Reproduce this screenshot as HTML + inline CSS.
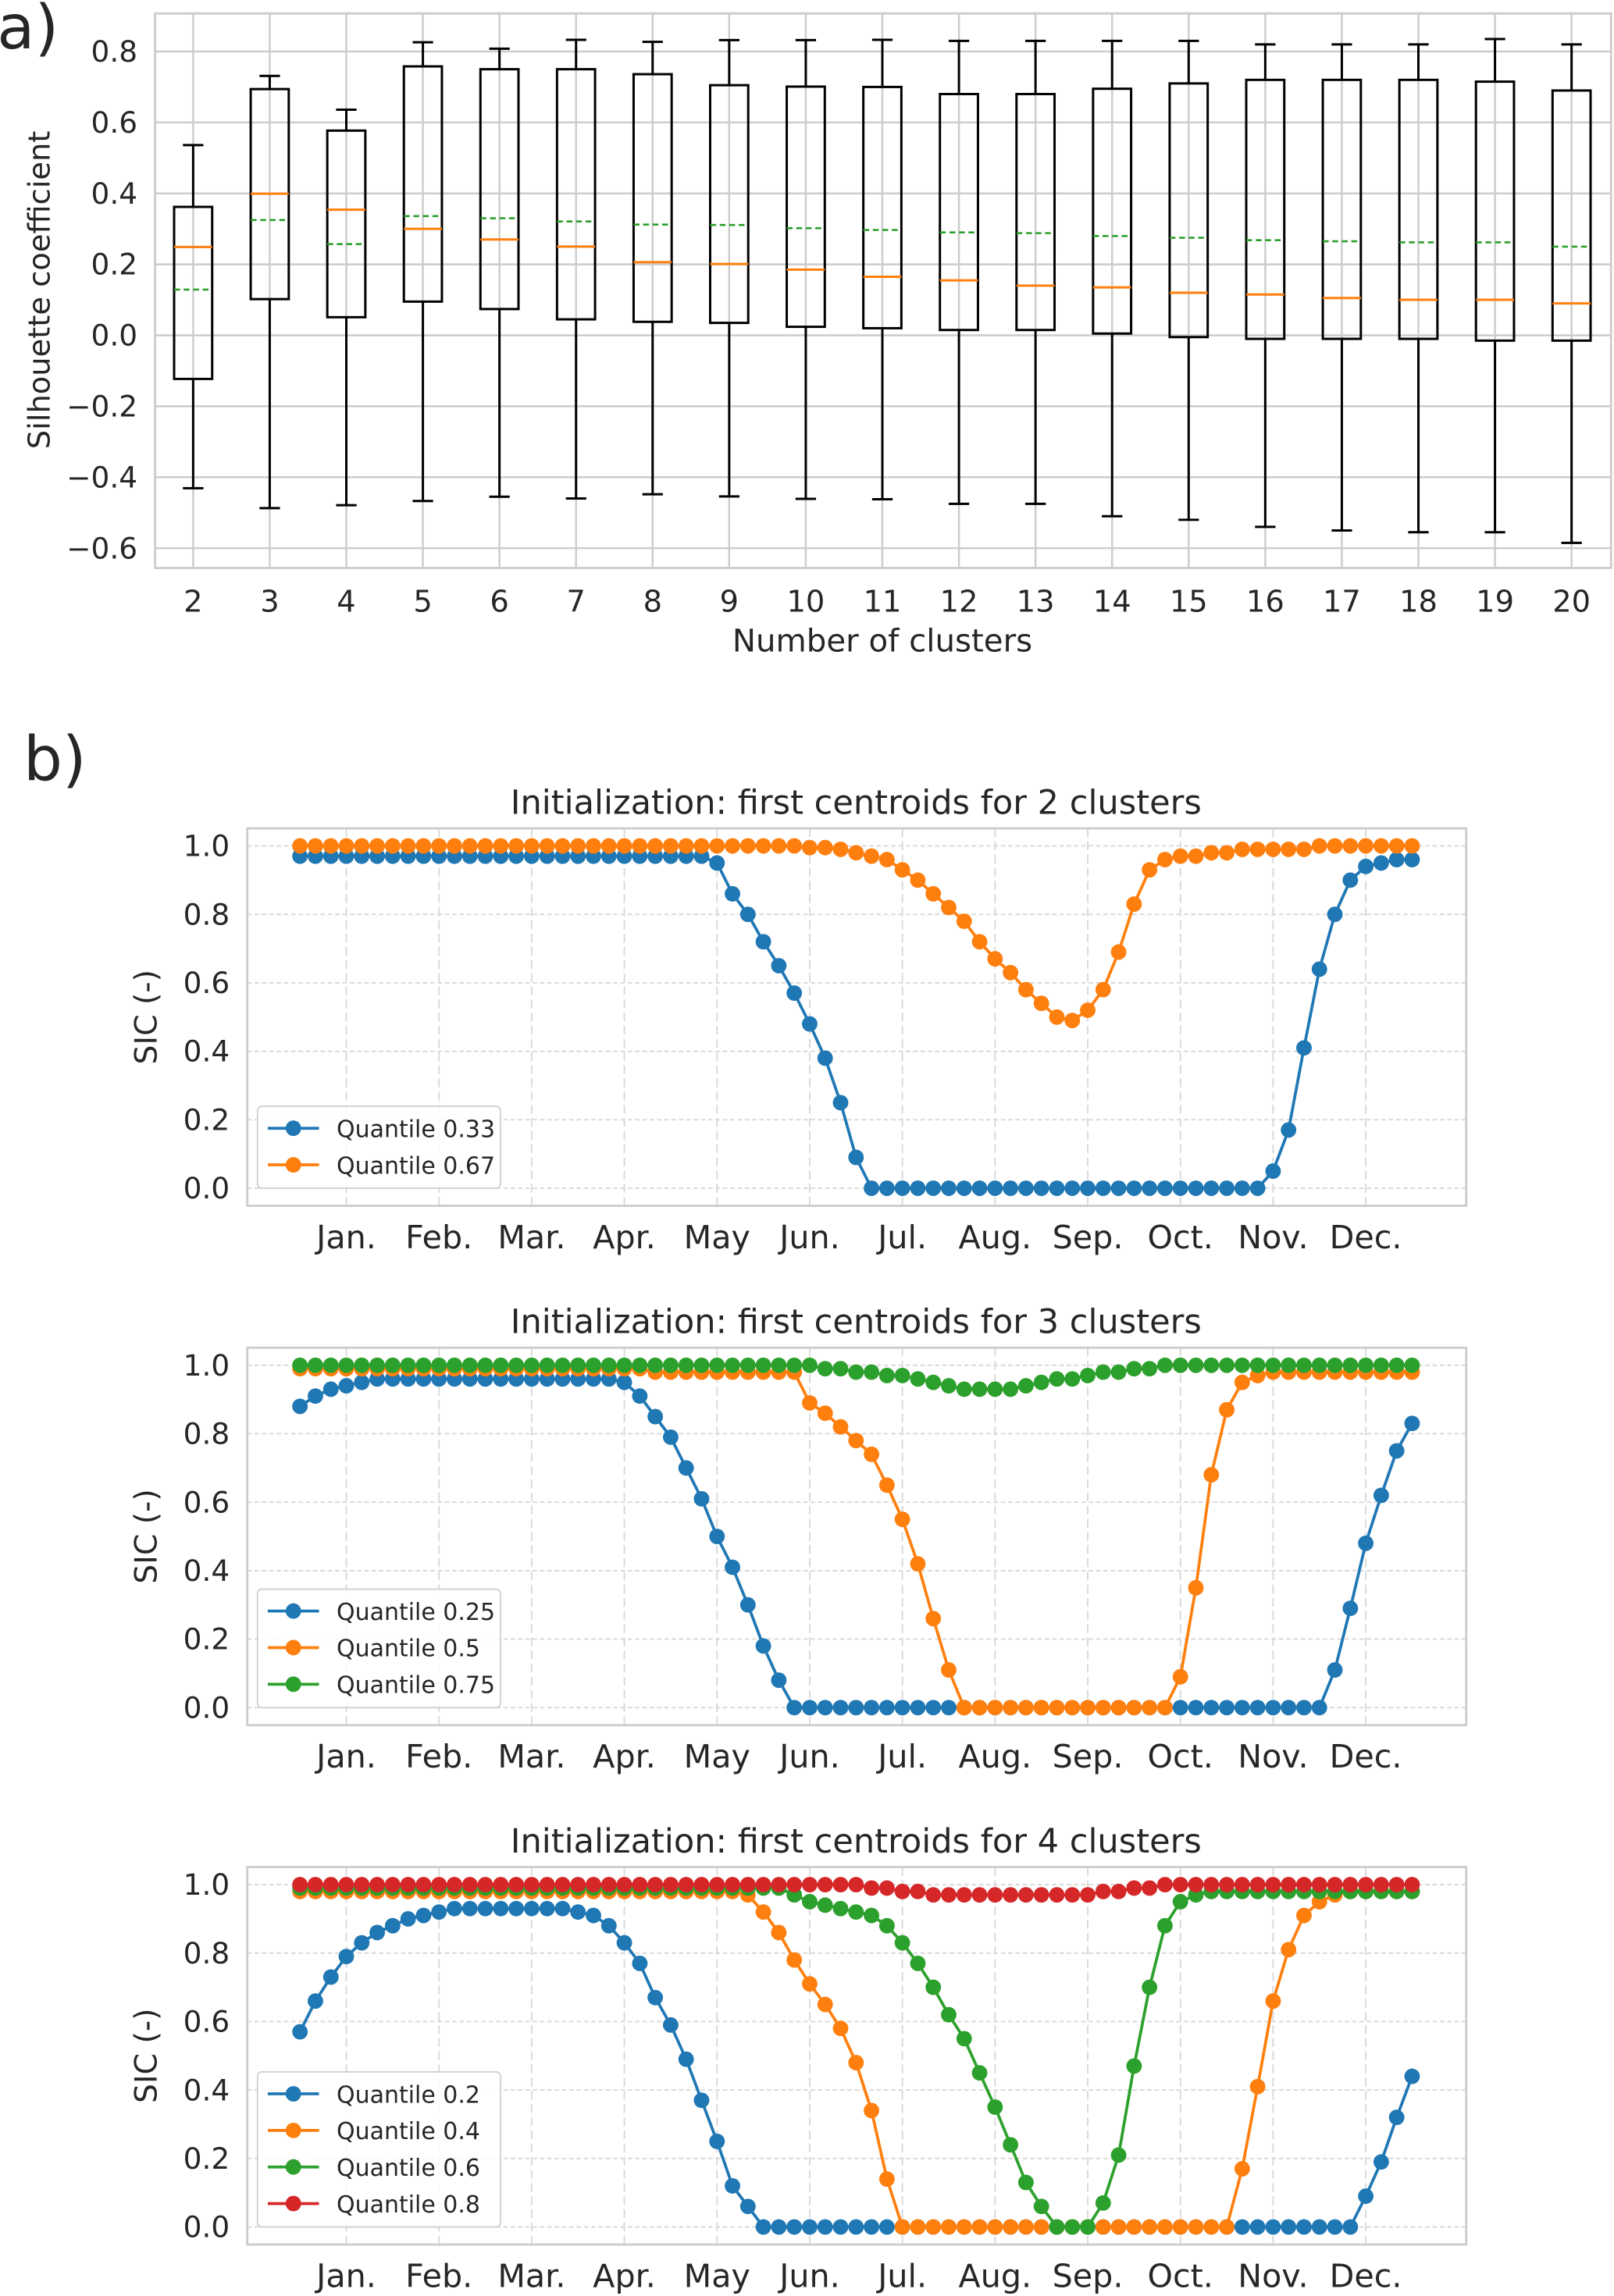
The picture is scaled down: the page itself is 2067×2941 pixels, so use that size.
<!DOCTYPE html>
<html><head><meta charset="utf-8"><style>
html,body{margin:0;padding:0;background:#fff}
svg{display:block}
text{font-family:"DejaVu Sans","Liberation Sans",sans-serif;fill:#262626}
</style></head><body>
<svg id="fig" width="2067" height="2941" viewBox="0 0 1103 1569" xmlns="http://www.w3.org/2000/svg">
<rect width="1103" height="1569" fill="#fff"/>
<text x="-2" y="33" font-size="42">a)</text>
<text x="16" y="533" font-size="42">b)</text>
</svg>
<script>
const clusters=[2,3,4,5,6,7,8,9,10,11,12,13,14,15,16,17,18,19,20];
const whiskLow=[-0.431,-0.487,-0.479,-0.467,-0.455,-0.46,-0.448,-0.454,-0.461,-0.462,-0.475,-0.475,-0.51,-0.52,-0.54,-0.55,-0.555,-0.555,-0.585];
const q1=[-0.123,0.102,0.051,0.095,0.074,0.045,0.038,0.035,0.024,0.02,0.015,0.015,0.005,-0.005,-0.01,-0.01,-0.01,-0.015,-0.015];
const medians=[0.249,0.399,0.354,0.300,0.270,0.25,0.206,0.201,0.185,0.165,0.155,0.14,0.135,0.12,0.115,0.105,0.1,0.1,0.09];
const means=[0.129,0.325,0.257,0.336,0.330,0.321,0.312,0.311,0.302,0.297,0.29,0.288,0.28,0.275,0.268,0.265,0.262,0.262,0.25];
const q3=[0.362,0.694,0.577,0.758,0.75,0.75,0.736,0.705,0.701,0.70,0.68,0.68,0.695,0.71,0.72,0.72,0.72,0.715,0.69];
const whiskHigh=[0.536,0.731,0.636,0.826,0.808,0.833,0.827,0.832,0.832,0.833,0.83,0.83,0.83,0.83,0.82,0.82,0.82,0.835,0.82];
const yTicksA=[-0.6,-0.4,-0.2,0.0,0.2,0.4,0.6,0.8];
const yTickLabelsA=["\u22120.6","\u22120.4","\u22120.2","0.0","0.2","0.4","0.6","0.8"];

const months=["Jan.","Feb.","Mar.","Apr.","May","Jun.","Jul.","Aug.","Sep.","Oct.","Nov.","Dec."];
const yTicksB=[0,0.2,0.4,0.6,0.8,1.0];
const yTickLabelsB=["0.0","0.2","0.4","0.6","0.8","1.0"];
const p1Q033=[0.97,0.97,0.97,0.97,0.97,0.97,0.97,0.97,0.97,0.97,0.97,0.97,0.97,0.97,0.97,0.97,0.97,0.97,0.97,0.97,0.97,0.97,0.97,0.97,0.97,0.97,0.97,0.95,0.86,0.80,0.72,0.65,0.57,0.48,0.38,0.25,0.09,0,0,0,0,0,0,0,0,0,0,0,0,0,0,0,0,0,0,0,0,0,0,0,0,0,0,0.05,0.17,0.41,0.64,0.80,0.90,0.94,0.95,0.96,0.96];
const p1Q067=[1,1,1,1,1,1,1,1,1,1,1,1,1,1,1,1,1,1,1,1,1,1,1,1,1,1,1,1,1,1,1,1,1,0.995,0.995,0.99,0.98,0.97,0.96,0.93,0.90,0.86,0.82,0.78,0.72,0.67,0.63,0.58,0.54,0.50,0.49,0.52,0.58,0.69,0.83,0.93,0.96,0.97,0.97,0.98,0.98,0.99,0.99,0.99,0.99,0.99,1,1,1,1,1,1,1];
const p2Q025=[0.88,0.91,0.93,0.94,0.95,0.96,0.96,0.96,0.96,0.96,0.96,0.96,0.96,0.96,0.96,0.96,0.96,0.96,0.96,0.96,0.96,0.95,0.91,0.85,0.79,0.70,0.61,0.50,0.41,0.30,0.18,0.08,0,0,0,0,0,0,0,0,0,0,0,0,0,0,0,0,0,0,0,0,0,0,0,0,0,0,0,0,0,0,0,0,0,0,0,0.11,0.29,0.48,0.62,0.75,0.83];
const p2Q05=[0.99,0.99,0.99,0.99,0.99,0.99,0.99,0.99,0.99,0.99,0.99,0.99,0.99,0.99,0.99,0.99,0.99,0.99,0.99,0.99,0.99,0.99,0.99,0.98,0.98,0.98,0.98,0.98,0.98,0.98,0.98,0.98,0.98,0.89,0.86,0.82,0.78,0.74,0.65,0.55,0.42,0.26,0.11,0,0,0,0,0,0,0,0,0,0,0,0,0,0,0.09,0.35,0.68,0.87,0.95,0.97,0.98,0.98,0.98,0.98,0.98,0.98,0.98,0.98,0.98,0.98];
const p2Q075=[1,1,1,1,1,1,1,1,1,1,1,1,1,1,1,1,1,1,1,1,1,1,1,1,1,1,1,1,1,1,1,1,1,1,0.99,0.99,0.98,0.98,0.97,0.97,0.96,0.95,0.94,0.93,0.93,0.93,0.93,0.94,0.95,0.96,0.96,0.97,0.98,0.98,0.99,0.99,1,1,1,1,1,1,1,1,1,1,1,1,1,1,1,1,1];
const p3Q02=[0.57,0.66,0.73,0.79,0.83,0.86,0.88,0.90,0.91,0.92,0.93,0.93,0.93,0.93,0.93,0.93,0.93,0.93,0.92,0.91,0.88,0.83,0.77,0.67,0.59,0.49,0.37,0.25,0.12,0.06,0,0,0,0,0,0,0,0,0,0,0,0,0,0,0,0,0,0,0,0,0,0,0,0,0,0,0,0,0,0,0,0,0,0,0,0,0,0,0,0.09,0.19,0.32,0.44];
const p3Q04=[0.98,0.98,0.98,0.98,0.98,0.98,0.98,0.98,0.98,0.98,0.98,0.98,0.98,0.98,0.98,0.98,0.98,0.98,0.98,0.98,0.98,0.98,0.98,0.98,0.98,0.98,0.98,0.98,0.98,0.97,0.92,0.86,0.78,0.71,0.65,0.58,0.48,0.34,0.14,0,0,0,0,0,0,0,0,0,0,0,0,0,0,0,0,0,0,0,0,0,0,0.17,0.41,0.66,0.81,0.91,0.95,0.97,0.98,0.98,0.98,0.98,0.98];
const p3Q06=[0.99,0.99,0.99,0.99,0.99,0.99,0.99,0.99,0.99,0.99,0.99,0.99,0.99,0.99,0.99,0.99,0.99,0.99,0.99,0.99,0.99,0.99,0.99,0.99,0.99,0.99,0.99,0.99,0.99,0.99,0.99,0.99,0.97,0.95,0.94,0.93,0.92,0.91,0.88,0.83,0.77,0.70,0.62,0.55,0.45,0.35,0.24,0.13,0.06,0,0,0,0.07,0.21,0.47,0.70,0.88,0.95,0.97,0.98,0.98,0.98,0.98,0.98,0.98,0.98,0.98,0.98,0.98,0.98,0.98,0.98,0.98];
const p3Q08=[1,1,1,1,1,1,1,1,1,1,1,1,1,1,1,1,1,1,1,1,1,1,1,1,1,1,1,1,1,1,1,1,1,1,1,1,1,0.99,0.99,0.98,0.98,0.97,0.97,0.97,0.97,0.97,0.97,0.97,0.97,0.97,0.97,0.97,0.98,0.98,0.99,0.99,1,1,1,1,1,1,1,1,1,1,1,1,1,1,1,1,1];

const NS="http://www.w3.org/2000/svg";
const svg=document.getElementById('fig');
function mk(tag,attrs,parent){const e=document.createElementNS(NS,tag);for(const k in attrs)e.setAttribute(k,attrs[k]);(parent||svg).appendChild(e);return e;}

// ---------- Panel a ----------
const aL=106,aR=1101,aT=9,aB=388;
const ax=c=>132+(c-2)*(1074-132)/18;
const ay=v=>229-v*242.5;
let g=mk('g',{});


yTicksA.forEach((t,i)=>{
  let l=mk('line',{x1:aL,x2:aR,y1:ay(t),y2:ay(t),stroke:'#cccccc','stroke-width':1.3},g);
  
  
  let tx=mk('text',{x:94,y:ay(t)+7,'font-size':20,'text-anchor':'end'},g);
  tx.textContent=yTickLabelsA[i];
  
  
});
clusters.forEach((c,i)=>{
  let l=mk('line',{x1:ax(c),x2:ax(c),y1:aT,y2:aB,stroke:'#cccccc','stroke-width':1.3},g);
  
  
  let tx=mk('text',{x:ax(c),y:418,'font-size':20.5,'text-anchor':'middle'},g);
  tx.textContent=String(c);
  
  
});
let fr=mk('rect',{x:aL,y:aT,width:aR-aL,height:aB-aT,fill:'none',stroke:'#cccccc','stroke-width':1.5},g);


clusters.forEach((c,i)=>{
  const x=ax(c),hw=13,cw=7;
  let b=mk('g',{},g);
  
  
  mk('line',{x1:x,x2:x,y1:ay(whiskHigh[i]),y2:ay(q3[i]),stroke:'#000','stroke-width':1.6},b);
  mk('line',{x1:x,x2:x,y1:ay(q1[i]),y2:ay(whiskLow[i]),stroke:'#000','stroke-width':1.6},b);
  mk('line',{x1:x-cw,x2:x+cw,y1:ay(whiskHigh[i]),y2:ay(whiskHigh[i]),stroke:'#000','stroke-width':1.6},b);
  mk('line',{x1:x-cw,x2:x+cw,y1:ay(whiskLow[i]),y2:ay(whiskLow[i]),stroke:'#000','stroke-width':1.6},b);
  mk('rect',{x:x-hw,y:ay(q3[i]),width:2*hw,height:ay(q1[i])-ay(q3[i]),fill:'none',stroke:'#000','stroke-width':1.6},b);
  let m=mk('line',{x1:x-hw,x2:x+hw,y1:ay(medians[i]),y2:ay(medians[i]),stroke:'#ff7f0e','stroke-width':1.6},b);
  
  
  let mn=mk('line',{x1:x-hw,x2:x+hw,y1:ay(means[i]),y2:ay(means[i]),stroke:'#2ca02c','stroke-width':1.4,'stroke-dasharray':'4,2.5'},b);
  
  
});
let xt=mk('text',{x:603,y:445,'font-size':21.5,'text-anchor':'middle'},g);
xt.textContent='Number of clusters';


let yt=mk('text',{x:0,y:0,'font-size':20.5,'text-anchor':'middle',transform:'translate(34,198) rotate(-90)'},g);
yt.textContent='Silhouette coefficient';



// ---------- Panel b ----------
const colors={b:'#1f77b4',o:'#ff7f0e',g:'#2ca02c',r:'#d62728'};
const panels=[
 {top:566,title:'Initialization: first centroids for 2 clusters',series:[[p1Q033,'b','Quantile 0.33'],[p1Q067,'o','Quantile 0.67']]},
 {top:921,title:'Initialization: first centroids for 3 clusters',series:[[p2Q025,'b','Quantile 0.25'],[p2Q05,'o','Quantile 0.5'],[p2Q075,'g','Quantile 0.75']]},
 {top:1276,title:'Initialization: first centroids for 4 clusters',series:[[p3Q02,'b','Quantile 0.2'],[p3Q04,'o','Quantile 0.4'],[p3Q06,'g','Quantile 0.6'],[p3Q08,'r','Quantile 0.8']]}
];
const bL=169,bR=1002;
const bx=i=>205+i*10.556;
panels.forEach((p,pi)=>{
  const off=p.top-566;
  const by=v=>812+off-v*234;
  const bT=p.top,bB=p.top+258;
  let pg=mk('g',{});
  
  
  yTicksB.forEach((t,i)=>{
    let l=mk('line',{x1:bL,x2:bR,y1:by(t),y2:by(t),stroke:'#d8d8d8','stroke-width':1,'stroke-dasharray':'3,2'},pg);
    
    
    let tx=mk('text',{x:157,y:by(t)+7,'font-size':20,'text-anchor':'end'},pg);
    tx.textContent=yTickLabelsB[i];
    
    
  });
  months.forEach((m,i)=>{
    const x=bx(3+6*i);
    let l=mk('line',{x1:x,x2:x,y1:bT,y2:bB,stroke:'#d8d8d8','stroke-width':1,'stroke-dasharray':'6,3'},pg);
    
    
    let tx=mk('text',{x:x,y:bB+29,'font-size':22,'text-anchor':'middle'},pg);
    tx.textContent=m;
    
    
  });
  let f=mk('rect',{x:bL,y:bT,width:bR-bL,height:bB-bT,fill:'none',stroke:'#cccccc','stroke-width':1.5},pg);
  
  
  let tt=mk('text',{x:585,y:bT-10,'font-size':23,'text-anchor':'middle'},pg);
  tt.textContent=p.title;
  
  
  let yl=mk('text',{x:0,y:0,'font-size':21,'text-anchor':'middle',transform:'translate(107,'+(bT+129)+') rotate(-90)'},pg);
  yl.textContent='SIC (-)';
  
  
  p.series.forEach(s=>{
    const vals=s[0],col=colors[s[1]];
    let sg=mk('g',{},pg);
    
    
    let d=vals.map((v,i)=>(i?'L':'M')+bx(i).toFixed(2)+','+by(v).toFixed(2)).join('');
    mk('path',{d:d,fill:'none',stroke:col,'stroke-width':2},sg);
    vals.forEach((v,i)=>{
      let c=mk('circle',{cx:bx(i),cy:by(v),r:5.3,fill:col},sg);
      
      
    });
  });
  const n=p.series.length,lh=25;
  const lT=bB-14-n*lh-4;
  let lg=mk('g',{},pg);
  
  
  mk('rect',{x:176,y:lT,width:166,height:n*lh+6,rx:3,fill:'#fff','fill-opacity':0.85,stroke:'#d0d0d0','stroke-width':1},lg);
  p.series.forEach((s,i)=>{
    const yy=lT+15+i*lh,col=colors[s[1]];
    let le=mk('g',{},lg);
    
    
    mk('line',{x1:183,x2:218,y1:yy,y2:yy,stroke:col,'stroke-width':2},le);
    mk('circle',{cx:200.5,cy:yy,r:5.3,fill:col},le);
    let tx=mk('text',{x:230,y:yy+6,'font-size':16},le);
    tx.textContent=s[2];
  });
});
</script>
</body></html>
